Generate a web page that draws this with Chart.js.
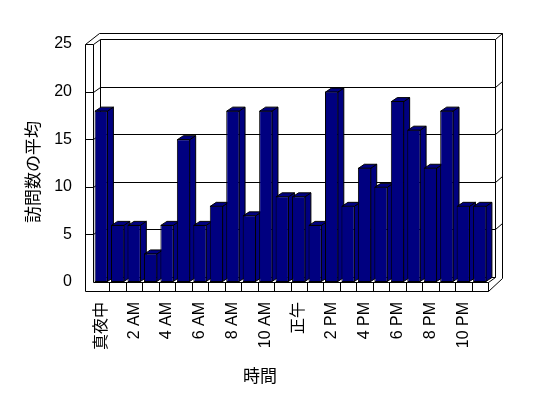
<!DOCTYPE html>
<html>
<head>
<meta charset="utf-8">
<script src="https://cdn.jsdelivr.net/npm/chart.js@4/dist/chart.umd.min.js"></script>
<style>
  html, body { margin: 0; background: #fff; }
  canvas { display: block; }
</style>
</head>
<body>
<canvas id="chart" width="548" height="398"></canvas>
<script>
// average visits per hour of the day
const hours = ['真夜中', '1 AM', '2 AM', '3 AM', '4 AM', '5 AM', '6 AM', '7 AM', '8 AM', '9 AM', '10 AM', '11 AM',
               '正午', '1 PM', '2 PM', '3 PM', '4 PM', '5 PM', '6 PM', '7 PM', '8 PM', '9 PM', '10 PM', '11 PM'];
const visits = [18, 6, 6, 3, 6, 15, 6, 8, 18, 7, 18, 9, 9, 6, 20, 8, 12, 10, 19, 16, 12, 18, 8, 8];
const yTicks = [0, 5, 10, 15, 20, 25];
const xTitle = '時間';
const yTitle = '訪問数の平均';

const NAVY = '#000080';
const LATIN = '"Liberation Sans", "Noto Sans CJK JP", sans-serif';
const CJK = '"Noto Sans CJK JP", sans-serif';

// depth offsets for the fake 3D look
const DX = 7, DY = -5;     // walls
const BDX = 6, BDY = -4;   // bars

function poly(ctx, pts, fill){
  ctx.beginPath();
  ctx.moveTo(pts[0][0], pts[0][1]);
  for (let i = 1; i < pts.length; i++) ctx.lineTo(pts[i][0], pts[i][1]);
  if (fill){ ctx.closePath(); ctx.fill(); }
  ctx.stroke();
}

const box3d = {
  id: 'box3d',
  beforeDatasetsDraw(chart){
    const { ctx, chartArea: a, scales: { x, y } } = chart;
    const px = v => Math.round(v) + 0.5;
    const L = px(a.left), R = px(a.right), T = px(a.top), B = px(a.bottom);
    const OL = L - 8, OB = B + 9;           // outer left / outer bottom
    const OT = T + DY - 6, OR = R + DX + 7; // outer top / outer right

    ctx.save();
    ctx.strokeStyle = '#000';
    ctx.lineWidth = 1;

    // outline of the box
    poly(ctx, [[R, OB], [OL, OB], [OL, T], [L + DX - 1, OT], [OR, OT], [OR, B + DY + 1], [R, OB]]);
    // left wall
    poly(ctx, [[OL, T], [L, T], [L, B]]);
    poly(ctx, [[L, T], [L + DX, T + DY], [L + DX, B + DY]]);
    // back wall
    poly(ctx, [[L + DX, T + DY], [OR - DX, T + DY], [OR - DX, B + DY]]);
    poly(ctx, [[OR - DX, T + DY], [OR, OT]]);
    // floor
    poly(ctx, [[L + DX, B + DY], [R + DX, B + DY], [R, B]]);
    poly(ctx, [[L, B], [R, B], [R, OB]]);
    const n = hours.length;
    for (let i = 1; i < n; i++){
      const xb = px(x.left + (x.right - x.left) * i / n);
      poly(ctx, [[xb, B], [xb, OB]]);
    }
    // gridlines
    yTicks.forEach(v => {
      if (v === 0 || v === 25) return;
      const yy = px(y.getPixelForValue(v));
      poly(ctx, [[OL, yy], [L, yy], [L + DX, yy + DY], [OR - DX, yy + DY], [OR, yy + DY - 6]]);
    });

    // side and top faces of the bars
    ctx.fillStyle = NAVY;
    chart.getDatasetMeta(0).data.forEach(bar => {
      const p = bar.getProps(['x', 'y', 'base', 'width'], true);
      const l = p.x - p.width / 2 + 0.5, r = p.x + p.width / 2 - 0.5;
      const t = p.y + 0.5, b = p.base - 0.5;
      poly(ctx, [[r, t], [r + BDX, t + BDY], [r + BDX, b + BDY], [r, b]], true);
      poly(ctx, [[l, t], [l + BDX, t + BDY], [r + BDX, t + BDY], [r, t]], true);
    });
    ctx.restore();
  },
  afterDraw(chart){
    const { ctx } = chart;
    ctx.save();
    ctx.fillStyle = '#000';
    ctx.font = '17px ' + CJK;
    ctx.textAlign = 'center';
    ctx.textBaseline = 'middle';
    ctx.fillText(xTitle, 260, 376);
    ctx.translate(33, 172);
    ctx.rotate(-Math.PI / 2);
    ctx.fillText(yTitle, 0, 0);
    ctx.restore();
  }
};

new Chart(document.getElementById('chart'), {
  type: 'bar',
  data: {
    labels: hours,
    datasets: [{
      data: visits,
      backgroundColor: NAVY,
      borderColor: '#000',
      borderWidth: 1,
      borderSkipped: false,
      barPercentage: 0.81,
      categoryPercentage: 1
    }]
  },
  options: {
    responsive: false,
    animation: false,
    devicePixelRatio: 1,
    layout: { padding: { left: 0, right: 60, top: 44, bottom: 0 } },
    plugins: { legend: { display: false }, tooltip: { enabled: false } },
    scales: {
      x: {
        grid: { display: false, drawTicks: false },
        border: { display: false },
        afterFit(scale){ scale.height = 116; },
        ticks: {
          autoSkip: false,
          minRotation: 90,
          maxRotation: 90,
          padding: 20,
          color: '#000',
          font: { family: LATIN, size: 16 },
          callback: (v, i) => i % 2 === 0 ? hours[i] : ''
        }
      },
      y: {
        min: 0,
        max: 25,
        grid: { display: false, drawTicks: false },
        border: { display: false },
        afterFit(scale){ scale.width = 93; },
        ticks: {
          stepSize: 5,
          padding: 21,
          color: '#000',
          font: { family: LATIN, size: 16 }
        }
      }
    }
  },
  plugins: [box3d]
});
</script>
</body>
</html>
